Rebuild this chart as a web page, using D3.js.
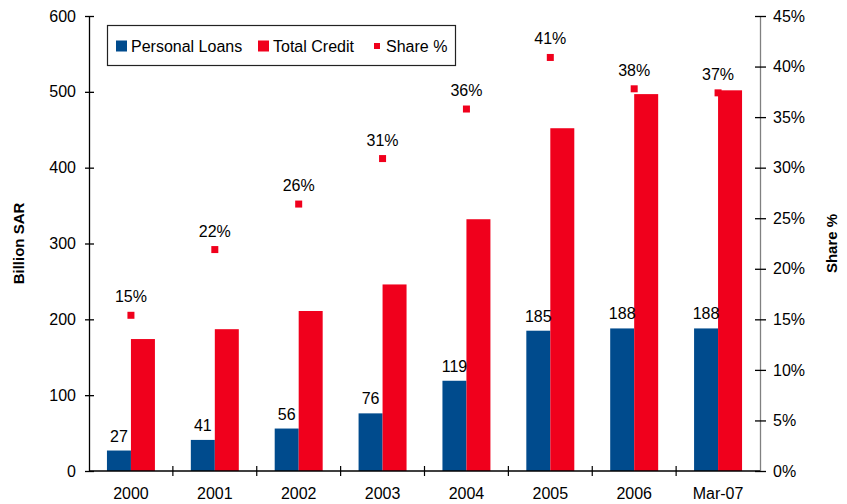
<!DOCTYPE html>
<html>
<head>
<meta charset="utf-8">
<script src="https://cdn.jsdelivr.net/npm/d3@7"></script>
<style>
  html, body { margin: 0; padding: 0; background: #fff; }
  svg { display: block; font-family: "Liberation Sans", Arial, sans-serif; }
</style>
</head>
<body>
<svg id="chart" width="847" height="504"></svg>
<script>
// Personal loans vs total bank credit, Saudi Arabia (billion SAR)
const categories = ["2000", "2001", "2002", "2003", "2004", "2005", "2006", "Mar-07"];
const personalLoans = [27, 41, 56, 76, 119, 185, 188, 188];
const totalCredit = [174, 187, 211, 246, 332, 452, 497, 502];
const sharePct = [0.154, 0.219, 0.264, 0.309, 0.358, 0.409, 0.378, 0.374];
const leftTicks = [0, 100, 200, 300, 400, 500, 600];
const rightTicks = [0, 0.05, 0.10, 0.15, 0.20, 0.25, 0.30, 0.35, 0.40, 0.45];

const BLUE = "#004b8d";
const RED = "#f0001c";
const FS = 16;

const W = 847, H = 504;
const m = { top: 16, right: 87, bottom: 33, left: 89 };
const svg = d3.select("#chart");

const x0 = d3.scaleBand().domain(categories).range([m.left, W - m.right]).padding(0);
const bw = x0.bandwidth();
const x1 = d3.scaleBand().domain(["personal", "total"]).range([bw * 0.214, bw * 0.786]).padding(0);
const yL = d3.scaleLinear().domain([0, 600]).range([H - m.bottom, m.top]);
const yR = d3.scaleLinear().domain([0, 0.45]).range([H - m.bottom, m.top]);

const rows = categories.map((c, i) => ({ c, personal: personalLoans[i], total: totalCredit[i], share: sharePct[i] }));

// Bars
const g = svg.append("g");
g.selectAll("rect.p").data(rows).join("rect")
  .attr("x", d => x0(d.c) + x1("personal"))
  .attr("y", d => yL(d.personal))
  .attr("width", x1.bandwidth())
  .attr("height", d => yL(0) - yL(d.personal))
  .attr("fill", BLUE);
g.selectAll("rect.t").data(rows).join("rect")
  .attr("x", d => x0(d.c) + x1("total"))
  .attr("y", d => yL(d.total))
  .attr("width", x1.bandwidth())
  .attr("height", d => yL(0) - yL(d.total))
  .attr("fill", RED);

// Personal loan value labels
g.selectAll("text.pl").data(rows).join("text")
  .attr("x", d => x0(d.c) + x1("personal") + x1.bandwidth() / 2)
  .attr("y", d => yL(d.personal) - 9)
  .attr("text-anchor", "middle")
  .attr("font-size", FS)
  .attr("fill", "#000")
  .text(d => d.personal);

// Share markers and labels
const fmtPct = d3.format(".0%");
g.selectAll("rect.s").data(rows).join("rect")
  .attr("x", d => x0(d.c) + bw / 2 - 3.5)
  .attr("y", d => yR(d.share) - 3.5)
  .attr("width", 7).attr("height", 7)
  .attr("fill", RED);
g.selectAll("text.sl").data(rows).join("text")
  .attr("x", d => x0(d.c) + bw / 2)
  .attr("y", d => yR(d.share) - 13)
  .attr("text-anchor", "middle")
  .attr("font-size", FS)
  .attr("fill", "#000")
  .text(d => fmtPct(d.share));

// Axes
function styleAxis(sel, color) {
  sel.selectAll("path").attr("stroke", color).attr("stroke-width", 1.3);
  sel.selectAll(".tick line").attr("stroke", color).attr("stroke-width", 1.3);
  sel.selectAll("text").attr("font-size", FS).attr("fill", "#000")
    .attr("font-family", '"Liberation Sans", Arial, sans-serif');
}

const axL = svg.append("g").attr("transform", `translate(${m.left},0)`)
  .call(d3.axisLeft(yL).tickValues(leftTicks).tickSize(4).tickSizeOuter(0).tickPadding(9));
axL.selectAll(".tick line").attr("x2", -4).attr("x1", 5);
styleAxis(axL, "#000");

const axR = svg.append("g").attr("transform", `translate(${W - m.right},0)`)
  .call(d3.axisRight(yR).tickValues(rightTicks).tickFormat(d3.format(".0%")).tickSize(5).tickSizeOuter(0).tickPadding(8));
axR.selectAll(".tick line").attr("x1", -5).attr("x2", 6);
styleAxis(axR, "#808080");
axR.selectAll(".tick line").attr("stroke", "#000");

// Category axis with boundary ticks
const axB = svg.append("g").attr("transform", `translate(0,${H - m.bottom})`);
axB.append("line").attr("x1", m.left).attr("x2", W - m.right).attr("stroke", "#000").attr("stroke-width", 1.3);
const bounds = categories.map(c => x0(c)).concat([W - m.right]);
axB.selectAll("line.tk").data(bounds.slice(1, -1)).join("line")
  .attr("x1", d => d).attr("x2", d => d).attr("y1", -5).attr("y2", 5)
  .attr("stroke", "#000").attr("stroke-width", 1.2);
axB.selectAll("text").data(categories).join("text")
  .attr("x", d => x0(d) + bw / 2)
  .attr("y", 28)
  .attr("text-anchor", "middle")
  .attr("font-size", FS)
  .attr("fill", "#000")
  .text(d => d);

// Axis titles
svg.append("text")
  .attr("transform", `translate(24,${(m.top + H - m.bottom) / 2}) rotate(-90)`)
  .attr("text-anchor", "middle")
  .attr("font-size", 15).attr("font-weight", "bold")
  .text("Billion SAR");
svg.append("text")
  .attr("transform", `translate(837,${(m.top + H - m.bottom) / 2}) rotate(-90)`)
  .attr("text-anchor", "middle")
  .attr("font-size", 15).attr("font-weight", "bold")
  .text("Share %");

// Legend
const lg = svg.append("g");
lg.append("rect").attr("x", 107.5).attr("y", 25.5).attr("width", 348).attr("height", 40)
  .attr("fill", "#fff").attr("stroke", "#222").attr("stroke-width", 1.2);
const legendItems = [
  { label: "Personal Loans", color: BLUE, x: 116, size: 11 },
  { label: "Total Credit", color: RED, x: 258, size: 11 },
  { label: "Share %", color: RED, x: 374, size: 6 }
];
legendItems.forEach(it => {
  lg.append("rect").attr("x", it.x).attr("y", 46 - it.size / 2).attr("width", it.size).attr("height", it.size).attr("fill", it.color);
  lg.append("text").attr("x", it.x + it.size + (it.size > 6 ? 4 : 6)).attr("y", 51.5)
    .attr("font-size", FS).attr("fill", "#000").text(it.label);
});
</script>
</body>
</html>
